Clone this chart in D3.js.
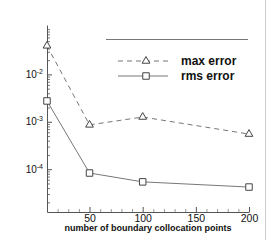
<!DOCTYPE html>
<html>
<head>
<meta charset="utf-8">
<script src="https://cdn.jsdelivr.net/npm/d3@7"></script>
<style>
  body { margin: 0; background: #fff; }
  svg { display: block; }
  text { font-family: "Liberation Sans", Arial, sans-serif; fill: #111; }
</style>
</head>
<body>
<div id="chart"></div>
<script>
// data
var nPoints = [10, 50, 100, 200];
var maxError = [0.040, 8.6e-4, 1.26e-3, 5.5e-4];
var rmsError = [2.75e-3, 8.3e-5, 5.4e-5, 4.2e-5];
var seriesNames = ['max error', 'rms error'];
var xTicks = [50, 100, 150, 200];
var yTicks = [1e-4, 1e-3, 1e-2];
var yExps = ['-4', '-3', '-2'];

var width = 270, height = 240;

var svg = d3.select('#chart').append('svg')
    .attr('width', width)
    .attr('height', height);

var xScale = d3.scaleLinear().domain([10, 200]).range([47, 249]);
var yScale = d3.scaleLog().domain([1.25e-5, 0.11]).range([212, 25]);

// light frame line on the right edge
svg.append('line')
    .attr('x1', 265.5).attr('x2', 265.5)
    .attr('y1', 0).attr('y2', height)
    .attr('stroke', '#ccc');

// minor ticks
var xMinor = d3.range(20, 200, 10).filter(function(v) { return v % 50 != 0; });
var yMinor = [];
[1e-5, 1e-4, 1e-3, 1e-2].forEach(function(b) {
    for (var k = 2; k <= 9; k++) {
        var v = b * k;
        if (v >= 1.25e-5 && v <= 0.11) yMinor.push(v);
    }
});

svg.append('g')
    .attr('transform', 'translate(0,212)')
    .call(d3.axisBottom(xScale).tickValues(xMinor).tickSize(-3).tickSizeOuter(0).tickFormat(''))
    .call(function(g) {
        g.select('.domain').remove();
        g.selectAll('line').attr('stroke', '#999');
    });

svg.append('g')
    .attr('transform', 'translate(47,0)')
    .call(d3.axisLeft(yScale).tickValues(yMinor).tickSize(-3).tickSizeOuter(0).tickFormat(''))
    .call(function(g) {
        g.select('.domain').remove();
        g.selectAll('line').attr('stroke', '#777');
    });

// major axes, ticks pointing inward
var xAxis = svg.append('g')
    .attr('transform', 'translate(0,212)')
    .call(d3.axisBottom(xScale).tickValues(xTicks).tickSize(-5).tickSizeOuter(0).tickPadding(3));
xAxis.selectAll('text').style('font-size', '10.5px').attr('fill', '#111');

var yAxis = svg.append('g')
    .attr('transform', 'translate(47,0)')
    .call(d3.axisLeft(yScale).tickValues(yTicks).tickSize(-5).tickSizeOuter(0).tickPadding(4));
yAxis.selectAll('.tick text')
    .text(null)
    .attr('fill', '#111')
    .style('font-size', '10px')
    .each(function(d, i) {
        var t = d3.select(this);
        t.append('tspan').text('10');
        t.append('tspan').attr('dy', '-4').style('font-size', '7px').text(yExps[i]);
    });

[xAxis, yAxis].forEach(function(g) {
    g.selectAll('.domain, line').attr('stroke', '#555');
});

// x axis title
svg.append('text')
    .attr('x', 148).attr('y', 231)
    .attr('text-anchor', 'middle')
    .style('font-size', '9px')
    .style('font-weight', 'bold')
    .text('number of boundary collocation points');

// series
var line = d3.line()
    .x(function(d) { return xScale(d.x); })
    .y(function(d) { return yScale(d.y); });

function toPoints(vals) {
    return nPoints.map(function(x, i) { return {x: x, y: vals[i]}; });
}

var series = [
    {name: seriesNames[0], pts: toPoints(maxError), dash: '5,4', symbol: d3.symbolTriangle, size: 26},
    {name: seriesNames[1], pts: toPoints(rmsError), dash: null, symbol: d3.symbolSquare, size: 42}
];

series.forEach(function(s) {
    svg.append('path')
        .attr('d', line(s.pts))
        .attr('fill', 'none')
        .attr('stroke', '#777')
        .attr('stroke-dasharray', s.dash);

    svg.selectAll(null).data(s.pts).enter().append('path')
        .attr('transform', function(d) { return 'translate(' + xScale(d.x) + ',' + yScale(d.y) + ')'; })
        .attr('d', d3.symbol().type(s.symbol).size(s.size))
        .attr('fill', '#fff')
        .attr('stroke', '#444');
});

// legend
svg.append('line')
    .attr('x1', 106).attr('x2', 248)
    .attr('y1', 39.5).attr('y2', 39.5)
    .attr('stroke', '#777');

var legend = svg.selectAll('.legend').data(series).enter().append('g')
    .attr('class', 'legend')
    .attr('transform', function(d, i) { return 'translate(0,' + (61 + i * 15) + ')'; });

legend.append('line')
    .attr('x1', 118).attr('x2', 168)
    .attr('stroke', '#777')
    .attr('stroke-dasharray', function(d) { return d.dash; });

legend.append('path')
    .attr('transform', 'translate(146,0)')
    .attr('d', function(d) { return d3.symbol().type(d.symbol).size(d.size)(); })
    .attr('fill', '#fff')
    .attr('stroke', '#444');

legend.append('text')
    .attr('x', 181).attr('y', 4)
    .style('font-size', '12px')
    .style('font-weight', 'bold')
    .text(function(d) { return d.name; });
</script>
</body>
</html>
